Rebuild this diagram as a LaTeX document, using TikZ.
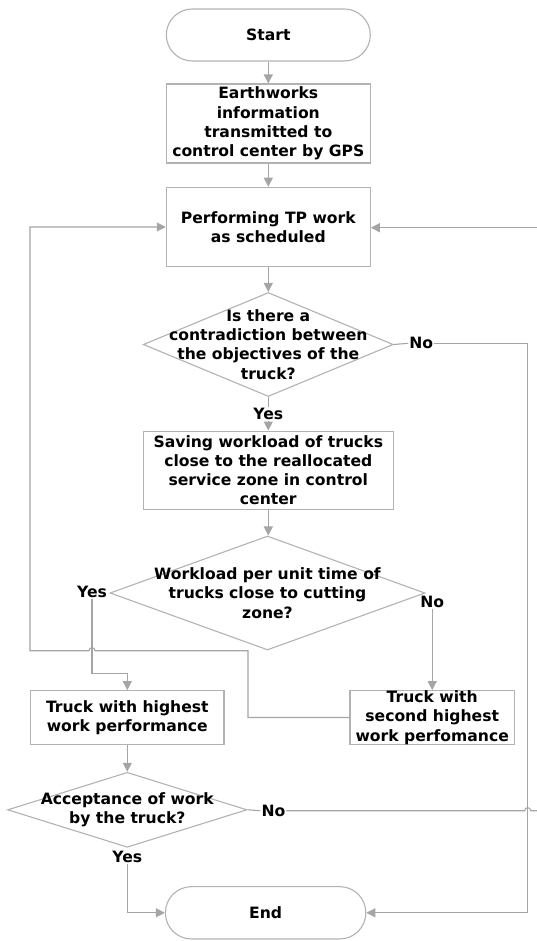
\documentclass[tikz,border=0pt]{standalone}
\usepackage{fontspec}
\setmainfont{DejaVu Sans}
\usetikzlibrary{arrows.meta,shapes.geometric}
\definecolor{lc}{RGB}{165,165,165}
\definecolor{bc}{RGB}{178,178,178}
\begin{document}
\begin{tikzpicture}[x=1pt,y=-1pt,
  font=\fontsize{15.6}{19.3}\selectfont\bfseries,
  procbox/.style={draw=bc, line width=1.1pt, rectangle, inner sep=0pt, align=center},
  term/.style={procbox, rounded corners=26pt},
  dia/.style={draw=bc, line width=1.1pt, diamond, inner sep=0pt},
  txt/.style={align=center, inner sep=0pt},
  lbl/.style={inner sep=1pt},
  conn/.style={draw=lc, line width=1.1pt},
  arr/.style={conn, -{Triangle[length=9pt,width=9pt]}}]
\useasboundingbox (0,0) rectangle (537,941);

\node[term, minimum width=204pt, minimum height=52pt] (start) at (268.3,35) {Start};
\node[procbox, minimum width=204pt, minimum height=79pt] (b1) at (268.3,123.5) {Earthworks\\information\\transmitted to\\control center by GPS};
\node[procbox, minimum width=204pt, minimum height=79.4pt] (b2) at (268.3,227) {Performing TP work\\as scheduled};
\node[dia, minimum width=250pt, minimum height=104pt] (d1) at (268.3,344.5) {};
\node[txt] (t1) at (d1.center) {Is there a\\contradiction between\\the objectives of the\\truck?};
\node[lbl] (y1) at (268.3,414) {Yes};
\node[procbox, minimum width=249.6pt, minimum height=78.3pt] (b3) at (268.3,470.2) {Saving workload of trucks\\close to the reallocated\\service zone in control\\center};
\node[dia, minimum width=315pt, minimum height=114pt] (d2) at (267.5,593) {};
\node[txt] (t2) at (d2.center) {Workload per unit time of\\trucks close to cutting\\zone?};
\node[lbl] (y2) at (92,591.7) {Yes};
\node[lbl] (n2) at (432.2,601.7) {No};
\node[procbox, minimum width=193.3pt, minimum height=53.6pt] (b4) at (127.3,717.5) {Truck with highest\\work performance};
\node[procbox, minimum width=164.4pt, minimum height=53.6pt] (b5) at (432.2,717.5) {Truck with\\second highest\\work perfomance};
\node[dia, minimum width=239.4pt, minimum height=75pt] (d3) at (127.3,809.8) {};
\node[txt] (t3) at (d3.center) {Acceptance of work\\by the truck?};
\node[lbl] (y3) at (127.3,856.7) {Yes};
\node[lbl] (n3) at (273.4,810.7) {No};
\node[lbl] (n1) at (421.3,343.3) {No};
\node[term, minimum width=200.4pt, minimum height=52.3pt] (end) at (265.6,912.8) {End};

\coordinate (r1) at (527.7,343.3);
\coordinate (k1) at (92,673.3);
\coordinate (p2) at (248,650.7);
\coordinate (p3) at (30,650.7);
\coordinate (e1) at (537,810.7);
\coordinate (e2) at (537,227.7);

\draw[arr] (start) -- (b1);
\draw[arr] (b1) -- (b2);
\draw[arr] (b2.south) -- (b2.south |- d1.north);
\draw[conn] (d1.south) -- (y1.north);
\draw[arr] (y1.south) -- (y1.south |- b3.north);
\draw[arr] (b3.south) -- (b3.south |- d2.north);
\draw[conn] (d1.east) -- (n1.west);
\draw[arr] (n1.east) -- (r1) |- (end.east);
\draw[arr] (n2.south) -- (n2.south |- b5.north);
\draw[arr] (y2.south) -- (k1) -| (b4.north);
\draw[arr] (b5.west) -| (p2) -- (95,650.7) .. controls (95,646.7) and (89,646.7) .. (89,650.7) -- (p3) |- (b2.west);
\draw[arr] (b4.south) -- (b4.south |- d3.north);
\draw[conn] (d3.east) -- (n3.west);
\draw[conn] (n3.east) -- (524.7,810.7) .. controls (524.7,806.7) and (530.7,806.7) .. (530.7,810.7) -- (e1);
\draw[arr] (e2) -- (e2 -| b2.east);
\draw[arr] (y3.south) |- (end.west);
\end{tikzpicture}
\end{document}
